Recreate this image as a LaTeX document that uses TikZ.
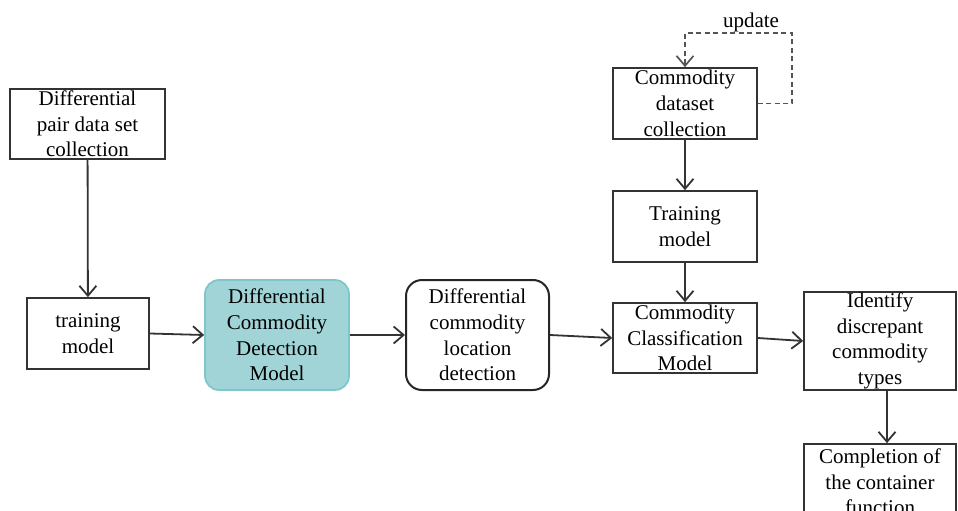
\documentclass[tikz,border=0pt]{standalone}
\usepackage{fontspec}
\setmainfont{Liberation Serif}
\usetikzlibrary{arrows.meta}
\definecolor{edge}{HTML}{333333}
\definecolor{loopline}{HTML}{555555}
\definecolor{tealfill}{HTML}{A0D4D7}
\definecolor{tealline}{HTML}{7FC6CA}

\begin{document}
\begin{tikzpicture}[x=1pt,y=-1pt,
  boxtext/.style={font=\fontsize{21}{25.7}\selectfont, align=center, inner sep=0pt, text=black},
  plainbox/.style={draw=edge, line width=1.7pt, fill=white, inner sep=0pt},
  tealbox/.style={draw=tealline, line width=1.7pt, fill=tealfill, inner sep=0pt, rounded corners=14pt},
  roundbox/.style={draw=black!85, line width=2pt, fill=white, inner sep=0pt, rounded corners=16pt},
  flow/.style={draw=edge, line width=1.8pt, -{Straight Barb[length=10pt,width=17pt]}},
  loop/.style={draw=loopline, line width=1.7pt, dash pattern=on 5pt off 3.5pt,
    -{Straight Barb[length=10pt,width=17pt]}},
]
\clip (0,0) rectangle (958,511);

% left branch
\node[plainbox, minimum width=155pt, minimum height=70pt,
  label={[boxtext]center:{Differential\\pair data set\\collection}}] (A) at (87.5,124) {};
\node[plainbox, minimum width=122pt, minimum height=71pt,
  label={[boxtext]center:{training\\model}}] (B) at (88,333.5) {};

% detection stage
\node[tealbox, minimum width=144pt, minimum height=110pt,
  label={[boxtext]center:{Differential\\Commodity\\Detection\\Model}}] (C) at (277,335) {};
\node[roundbox, minimum width=143pt, minimum height=110pt,
  label={[boxtext]center:{Differential\\commodity\\location\\detection}}] (D) at (477.5,335) {};

% classification branch
\node[plainbox, minimum width=144pt, minimum height=71pt,
  label={[boxtext]center:{Commodity\\dataset\\collection}}] (E) at (685,103.5) {};
\node[plainbox, minimum width=144pt, minimum height=71pt,
  label={[boxtext]center:{Training\\model}}] (F) at (685,226.5) {};
\node[plainbox, minimum width=144pt, minimum height=70pt,
  label={[boxtext]center:{Commodity\\Classification\\Model}}] (G) at (685,338) {};

% outputs
\node[plainbox, minimum width=152pt, minimum height=98pt,
  label={[boxtext]center:{Identify\\discrepant\\commodity\\types}}] (H) at (880,341) {};
\node[plainbox, minimum width=152pt, minimum height=76pt,
  label={[boxtext]center:{Completion of\\the container\\function}}] (I) at (880,482) {};

% connectors
\draw[flow] (A) -- (B);
\draw[flow] (B.east) -- (C.west);
\draw[flow] (C.east) -- (D.west);
\draw[flow] (D.east) -- (G.west);
\draw[flow] (E) -- (F);
\draw[flow] (F) -- (G);
\draw[flow] (G.east) -- (H.west);
\draw[flow] ([xshift=7pt]H.south) -- ([xshift=7pt]I.north);

% update loop
\coordinate (ucorner) at (792,33);
\draw[loop] (E.east) -| (ucorner) -| (E.north);
\node[boxtext] (upd) at (751,22) {update};
\end{tikzpicture}
\end{document}
